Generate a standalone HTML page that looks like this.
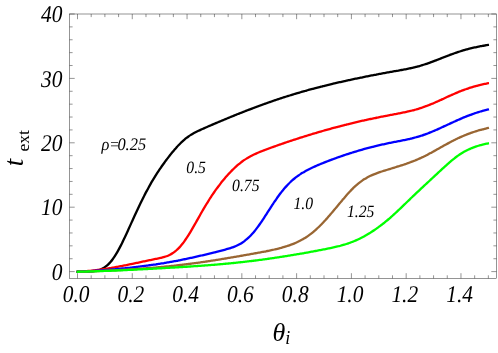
<!DOCTYPE html>
<html><head><meta charset="utf-8"><title>plot</title>
<style>html,body{margin:0;padding:0;background:#fff;}body{width:498px;height:353px;overflow:hidden;font-family:"Liberation Serif",serif;}svg{display:block;will-change:transform}</style>
</head><body>
<svg width="498" height="353" viewBox="0 0 498 353">
<rect width="498" height="353" fill="#fff"/>
<path d="M76.50 271.79 C76.83 271.79 77.83 271.77 78.50 271.76 C79.17 271.75 79.83 271.74 80.50 271.73 C81.17 271.71 81.83 271.70 82.50 271.69 C83.17 271.67 83.83 271.66 84.50 271.64 C85.17 271.63 85.83 271.61 86.50 271.59 C87.17 271.57 87.83 271.55 88.50 271.52 C89.17 271.49 89.83 271.46 90.50 271.42 C91.17 271.38 91.83 271.33 92.50 271.27 C93.17 271.20 93.83 271.13 94.50 271.04 C95.17 270.95 95.83 270.84 96.50 270.70 C97.17 270.56 97.83 270.41 98.50 270.21 C99.17 270.02 99.83 269.80 100.50 269.54 C101.17 269.27 101.83 268.97 102.50 268.62 C103.17 268.27 103.83 267.89 104.50 267.44 C105.17 267.00 105.83 266.50 106.50 265.95 C107.17 265.40 107.83 264.80 108.50 264.13 C109.17 263.47 109.83 262.75 110.50 261.96 C111.17 261.18 111.83 260.34 112.50 259.44 C113.17 258.55 113.83 257.59 114.50 256.58 C115.17 255.57 115.83 254.50 116.50 253.38 C117.17 252.26 117.83 251.09 118.50 249.88 C119.17 248.67 119.83 247.41 120.50 246.11 C121.17 244.82 121.83 243.48 122.50 242.12 C123.17 240.76 123.83 239.37 124.50 237.96 C125.17 236.55 125.83 235.11 126.50 233.66 C127.17 232.21 127.83 230.74 128.50 229.28 C129.17 227.81 129.83 226.33 130.50 224.85 C131.17 223.38 131.83 221.90 132.50 220.43 C133.17 218.95 133.83 217.48 134.50 216.03 C135.17 214.57 135.83 213.12 136.50 211.68 C137.17 210.25 137.83 208.82 138.50 207.41 C139.17 206.01 139.83 204.61 140.50 203.24 C141.17 201.87 141.83 200.51 142.50 199.17 C143.17 197.84 143.83 196.52 144.50 195.22 C145.17 193.93 145.83 192.65 146.50 191.40 C147.17 190.14 147.83 188.91 148.50 187.70 C149.17 186.49 149.83 185.30 150.50 184.13 C151.17 182.96 151.83 181.82 152.50 180.69 C153.17 179.57 153.83 178.47 154.50 177.38 C155.17 176.30 155.83 175.24 156.50 174.19 C157.17 173.15 157.83 172.13 158.50 171.12 C159.17 170.11 159.83 169.12 160.50 168.14 C161.17 167.17 161.83 166.21 162.50 165.27 C163.17 164.32 163.83 163.39 164.50 162.47 C165.17 161.56 165.83 160.65 166.50 159.76 C167.17 158.87 167.83 157.99 168.50 157.12 C169.17 156.26 169.83 155.41 170.50 154.57 C171.17 153.73 171.83 152.90 172.50 152.09 C173.17 151.28 173.83 150.48 174.50 149.71 C175.17 148.93 175.83 148.16 176.50 147.42 C177.17 146.68 177.83 145.95 178.50 145.25 C179.17 144.55 179.83 143.87 180.50 143.21 C181.17 142.55 181.83 141.91 182.50 141.30 C183.17 140.69 183.83 140.10 184.50 139.54 C185.17 138.97 185.83 138.44 186.50 137.92 C187.17 137.41 187.83 136.92 188.50 136.45 C189.17 135.98 189.83 135.54 190.50 135.12 C191.17 134.69 191.83 134.29 192.50 133.91 C193.17 133.52 193.83 133.15 194.50 132.80 C195.17 132.44 195.83 132.10 196.50 131.77 C197.17 131.43 197.83 131.11 198.50 130.80 C199.17 130.48 199.83 130.17 200.50 129.87 C201.17 129.56 201.83 129.26 202.50 128.96 C203.17 128.66 203.83 128.36 204.50 128.07 C205.17 127.77 205.83 127.48 206.50 127.19 C207.17 126.90 207.83 126.61 208.50 126.32 C209.17 126.03 209.83 125.74 210.50 125.45 C211.17 125.16 211.83 124.87 212.50 124.59 C213.17 124.30 213.83 124.02 214.50 123.73 C215.17 123.45 215.83 123.17 216.50 122.88 C217.17 122.60 217.83 122.32 218.50 122.04 C219.17 121.76 219.83 121.48 220.50 121.20 C221.17 120.92 221.83 120.64 222.50 120.36 C223.17 120.08 223.83 119.81 224.50 119.53 C225.17 119.25 225.83 118.98 226.50 118.70 C227.17 118.43 227.83 118.15 228.50 117.88 C229.17 117.61 229.83 117.33 230.50 117.06 C231.17 116.79 231.83 116.52 232.50 116.25 C233.17 115.98 233.83 115.71 234.50 115.44 C235.17 115.17 235.83 114.90 236.50 114.63 C237.17 114.37 237.83 114.10 238.50 113.83 C239.17 113.57 239.83 113.30 240.50 113.04 C241.17 112.77 241.83 112.51 242.50 112.25 C243.17 111.99 243.83 111.73 244.50 111.46 C245.17 111.20 245.83 110.94 246.50 110.69 C247.17 110.43 247.83 110.17 248.50 109.91 C249.17 109.66 249.83 109.40 250.50 109.14 C251.17 108.89 251.83 108.64 252.50 108.38 C253.17 108.13 253.83 107.88 254.50 107.63 C255.17 107.38 255.83 107.13 256.50 106.88 C257.17 106.63 257.83 106.38 258.50 106.13 C259.17 105.89 259.83 105.64 260.50 105.40 C261.17 105.15 261.83 104.91 262.50 104.67 C263.17 104.42 263.83 104.18 264.50 103.94 C265.17 103.70 265.83 103.47 266.50 103.23 C267.17 102.99 267.83 102.76 268.50 102.52 C269.17 102.29 269.83 102.05 270.50 101.82 C271.17 101.59 271.83 101.36 272.50 101.13 C273.17 100.90 273.83 100.67 274.50 100.44 C275.17 100.21 275.83 99.99 276.50 99.76 C277.17 99.54 277.83 99.31 278.50 99.09 C279.17 98.87 279.83 98.65 280.50 98.43 C281.17 98.21 281.83 97.99 282.50 97.77 C283.17 97.56 283.83 97.34 284.50 97.13 C285.17 96.91 285.83 96.70 286.50 96.49 C287.17 96.28 287.83 96.07 288.50 95.86 C289.17 95.65 289.83 95.44 290.50 95.24 C291.17 95.03 291.83 94.82 292.50 94.62 C293.17 94.42 293.83 94.22 294.50 94.01 C295.17 93.81 295.83 93.61 296.50 93.42 C297.17 93.22 297.83 93.02 298.50 92.82 C299.17 92.63 299.83 92.43 300.50 92.24 C301.17 92.05 301.83 91.86 302.50 91.67 C303.17 91.48 303.83 91.29 304.50 91.10 C305.17 90.91 305.83 90.72 306.50 90.54 C307.17 90.35 307.83 90.17 308.50 89.98 C309.17 89.80 309.83 89.62 310.50 89.44 C311.17 89.26 311.83 89.08 312.50 88.90 C313.17 88.72 313.83 88.54 314.50 88.37 C315.17 88.19 315.83 88.02 316.50 87.84 C317.17 87.67 317.83 87.50 318.50 87.32 C319.17 87.15 319.83 86.98 320.50 86.81 C321.17 86.64 321.83 86.47 322.50 86.31 C323.17 86.14 323.83 85.97 324.50 85.81 C325.17 85.64 325.83 85.48 326.50 85.31 C327.17 85.15 327.83 84.99 328.50 84.82 C329.17 84.66 329.83 84.50 330.50 84.34 C331.17 84.18 331.83 84.02 332.50 83.86 C333.17 83.71 333.83 83.55 334.50 83.39 C335.17 83.24 335.83 83.08 336.50 82.93 C337.17 82.77 337.83 82.62 338.50 82.46 C339.17 82.31 339.83 82.16 340.50 82.01 C341.17 81.86 341.83 81.71 342.50 81.56 C343.17 81.41 343.83 81.26 344.50 81.11 C345.17 80.96 345.83 80.81 346.50 80.67 C347.17 80.52 347.83 80.37 348.50 80.23 C349.17 80.08 349.83 79.94 350.50 79.79 C351.17 79.65 351.83 79.51 352.50 79.36 C353.17 79.22 353.83 79.08 354.50 78.94 C355.17 78.80 355.83 78.66 356.50 78.52 C357.17 78.38 357.83 78.24 358.50 78.10 C359.17 77.96 359.83 77.82 360.50 77.69 C361.17 77.55 361.83 77.41 362.50 77.28 C363.17 77.14 363.83 77.01 364.50 76.87 C365.17 76.74 365.83 76.60 366.50 76.47 C367.17 76.34 367.83 76.21 368.50 76.07 C369.17 75.94 369.83 75.81 370.50 75.68 C371.17 75.55 371.83 75.42 372.50 75.29 C373.17 75.16 373.83 75.04 374.50 74.91 C375.17 74.78 375.83 74.65 376.50 74.53 C377.17 74.40 377.83 74.27 378.50 74.15 C379.17 74.02 379.83 73.90 380.50 73.77 C381.17 73.65 381.83 73.53 382.50 73.40 C383.17 73.28 383.83 73.16 384.50 73.04 C385.17 72.91 385.83 72.79 386.50 72.67 C387.17 72.55 387.83 72.43 388.50 72.31 C389.17 72.19 389.83 72.07 390.50 71.95 C391.17 71.83 391.83 71.72 392.50 71.60 C393.17 71.48 393.83 71.36 394.50 71.24 C395.17 71.12 395.83 71.01 396.50 70.89 C397.17 70.77 397.83 70.65 398.50 70.54 C399.17 70.42 399.83 70.30 400.50 70.18 C401.17 70.06 401.83 69.94 402.50 69.82 C403.17 69.70 403.83 69.57 404.50 69.45 C405.17 69.32 405.83 69.20 406.50 69.07 C407.17 68.94 407.83 68.81 408.50 68.67 C409.17 68.53 409.83 68.39 410.50 68.25 C411.17 68.11 411.83 67.96 412.50 67.81 C413.17 67.66 413.83 67.50 414.50 67.34 C415.17 67.18 415.83 67.01 416.50 66.84 C417.17 66.67 417.83 66.49 418.50 66.31 C419.17 66.12 419.83 65.93 420.50 65.74 C421.17 65.55 421.83 65.35 422.50 65.14 C423.17 64.94 423.83 64.73 424.50 64.51 C425.17 64.29 425.83 64.07 426.50 63.85 C427.17 63.62 427.83 63.39 428.50 63.15 C429.17 62.92 429.83 62.68 430.50 62.43 C431.17 62.19 431.83 61.94 432.50 61.69 C433.17 61.44 433.83 61.19 434.50 60.93 C435.17 60.68 435.83 60.42 436.50 60.16 C437.17 59.90 437.83 59.63 438.50 59.37 C439.17 59.11 439.83 58.84 440.50 58.58 C441.17 58.32 441.83 58.05 442.50 57.79 C443.17 57.53 443.83 57.26 444.50 57.00 C445.17 56.74 445.83 56.48 446.50 56.22 C447.17 55.96 447.83 55.71 448.50 55.45 C449.17 55.20 449.83 54.95 450.50 54.70 C451.17 54.45 451.83 54.21 452.50 53.96 C453.17 53.72 453.83 53.48 454.50 53.25 C455.17 53.01 455.83 52.78 456.50 52.56 C457.17 52.33 457.83 52.11 458.50 51.89 C459.17 51.67 459.83 51.45 460.50 51.24 C461.17 51.03 461.83 50.83 462.50 50.63 C463.17 50.42 463.83 50.23 464.50 50.03 C465.17 49.84 465.83 49.65 466.50 49.47 C467.17 49.28 467.83 49.11 468.50 48.93 C469.17 48.75 469.83 48.58 470.50 48.42 C471.17 48.25 471.83 48.09 472.50 47.93 C473.17 47.77 473.83 47.62 474.50 47.47 C475.17 47.32 475.83 47.17 476.50 47.03 C477.17 46.89 477.83 46.76 478.50 46.62 C479.17 46.49 479.83 46.36 480.50 46.24 C481.17 46.11 481.83 45.99 482.50 45.87 C483.17 45.76 483.83 45.64 484.50 45.54 C485.17 45.43 485.83 45.32 486.50 45.22 C487.17 45.12 488.08 44.99 488.50 44.94 C488.92 44.88 488.92 44.88 489.00 44.87" fill="none" stroke="#000000" stroke-width="2.3" stroke-linejoin="round" stroke-linecap="butt"/>
<path d="M76.50 271.82 C76.83 271.80 77.83 271.76 78.50 271.72 C79.17 271.69 79.83 271.65 80.50 271.61 C81.17 271.57 81.83 271.53 82.50 271.48 C83.17 271.43 83.83 271.39 84.50 271.33 C85.17 271.28 85.83 271.23 86.50 271.17 C87.17 271.12 87.83 271.06 88.50 271.00 C89.17 270.93 89.83 270.87 90.50 270.80 C91.17 270.73 91.83 270.66 92.50 270.59 C93.17 270.52 93.83 270.44 94.50 270.37 C95.17 270.29 95.83 270.21 96.50 270.13 C97.17 270.04 97.83 269.96 98.50 269.87 C99.17 269.79 99.83 269.70 100.50 269.60 C101.17 269.51 101.83 269.42 102.50 269.32 C103.17 269.22 103.83 269.12 104.50 269.02 C105.17 268.92 105.83 268.82 106.50 268.71 C107.17 268.61 107.83 268.50 108.50 268.39 C109.17 268.28 109.83 268.17 110.50 268.06 C111.17 267.94 111.83 267.83 112.50 267.71 C113.17 267.60 113.83 267.48 114.50 267.36 C115.17 267.24 115.83 267.12 116.50 266.99 C117.17 266.87 117.83 266.75 118.50 266.62 C119.17 266.49 119.83 266.37 120.50 266.24 C121.17 266.11 121.83 265.98 122.50 265.85 C123.17 265.72 123.83 265.59 124.50 265.45 C125.17 265.32 125.83 265.19 126.50 265.05 C127.17 264.92 127.83 264.78 128.50 264.65 C129.17 264.51 129.83 264.37 130.50 264.23 C131.17 264.10 131.83 263.96 132.50 263.82 C133.17 263.68 133.83 263.54 134.50 263.40 C135.17 263.26 135.83 263.12 136.50 262.98 C137.17 262.84 137.83 262.70 138.50 262.56 C139.17 262.42 139.83 262.27 140.50 262.13 C141.17 261.99 141.83 261.85 142.50 261.71 C143.17 261.57 143.83 261.42 144.50 261.28 C145.17 261.14 145.83 261.00 146.50 260.86 C147.17 260.72 147.83 260.58 148.50 260.44 C149.17 260.30 149.83 260.16 150.50 260.02 C151.17 259.88 151.83 259.74 152.50 259.60 C153.17 259.47 153.83 259.33 154.50 259.20 C155.17 259.06 155.83 258.93 156.50 258.79 C157.17 258.65 157.83 258.52 158.50 258.38 C159.17 258.24 159.83 258.10 160.50 257.95 C161.17 257.79 161.83 257.64 162.50 257.47 C163.17 257.30 163.83 257.12 164.50 256.92 C165.17 256.71 165.83 256.50 166.50 256.26 C167.17 256.02 167.83 255.75 168.50 255.46 C169.17 255.17 169.83 254.85 170.50 254.49 C171.17 254.13 171.83 253.74 172.50 253.31 C173.17 252.88 173.83 252.42 174.50 251.91 C175.17 251.40 175.83 250.85 176.50 250.26 C177.17 249.67 177.83 249.03 178.50 248.35 C179.17 247.67 179.83 246.95 180.50 246.18 C181.17 245.41 181.83 244.60 182.50 243.75 C183.17 242.90 183.83 242.01 184.50 241.08 C185.17 240.15 185.83 239.18 186.50 238.18 C187.17 237.18 187.83 236.14 188.50 235.08 C189.17 234.02 189.83 232.93 190.50 231.81 C191.17 230.70 191.83 229.57 192.50 228.42 C193.17 227.27 193.83 226.10 194.50 224.93 C195.17 223.76 195.83 222.57 196.50 221.39 C197.17 220.20 197.83 219.01 198.50 217.83 C199.17 216.64 199.83 215.46 200.50 214.28 C201.17 213.11 201.83 211.94 202.50 210.79 C203.17 209.64 203.83 208.49 204.50 207.37 C205.17 206.24 205.83 205.13 206.50 204.03 C207.17 202.94 207.83 201.86 208.50 200.80 C209.17 199.74 209.83 198.70 210.50 197.67 C211.17 196.65 211.83 195.64 212.50 194.65 C213.17 193.67 213.83 192.70 214.50 191.74 C215.17 190.79 215.83 189.85 216.50 188.93 C217.17 188.01 217.83 187.11 218.50 186.22 C219.17 185.33 219.83 184.46 220.50 183.61 C221.17 182.75 221.83 181.91 222.50 181.09 C223.17 180.26 223.83 179.45 224.50 178.66 C225.17 177.86 225.83 177.08 226.50 176.32 C227.17 175.56 227.83 174.81 228.50 174.08 C229.17 173.36 229.83 172.64 230.50 171.95 C231.17 171.25 231.83 170.57 232.50 169.91 C233.17 169.24 233.83 168.60 234.50 167.97 C235.17 167.34 235.83 166.74 236.50 166.14 C237.17 165.55 237.83 164.98 238.50 164.42 C239.17 163.87 239.83 163.33 240.50 162.81 C241.17 162.29 241.83 161.79 242.50 161.30 C243.17 160.82 243.83 160.35 244.50 159.90 C245.17 159.45 245.83 159.02 246.50 158.60 C247.17 158.18 247.83 157.78 248.50 157.39 C249.17 157.01 249.83 156.63 250.50 156.28 C251.17 155.92 251.83 155.57 252.50 155.24 C253.17 154.90 253.83 154.58 254.50 154.27 C255.17 153.96 255.83 153.66 256.50 153.37 C257.17 153.07 257.83 152.79 258.50 152.51 C259.17 152.23 259.83 151.96 260.50 151.69 C261.17 151.42 261.83 151.16 262.50 150.90 C263.17 150.64 263.83 150.38 264.50 150.13 C265.17 149.88 265.83 149.62 266.50 149.37 C267.17 149.12 267.83 148.88 268.50 148.63 C269.17 148.38 269.83 148.14 270.50 147.89 C271.17 147.65 271.83 147.41 272.50 147.17 C273.17 146.93 273.83 146.69 274.50 146.45 C275.17 146.21 275.83 145.97 276.50 145.74 C277.17 145.50 277.83 145.27 278.50 145.03 C279.17 144.80 279.83 144.56 280.50 144.33 C281.17 144.10 281.83 143.87 282.50 143.64 C283.17 143.41 283.83 143.18 284.50 142.95 C285.17 142.73 285.83 142.50 286.50 142.28 C287.17 142.05 287.83 141.83 288.50 141.60 C289.17 141.38 289.83 141.16 290.50 140.94 C291.17 140.71 291.83 140.49 292.50 140.27 C293.17 140.05 293.83 139.84 294.50 139.62 C295.17 139.40 295.83 139.19 296.50 138.97 C297.17 138.75 297.83 138.54 298.50 138.33 C299.17 138.11 299.83 137.90 300.50 137.69 C301.17 137.48 301.83 137.26 302.50 137.05 C303.17 136.84 303.83 136.64 304.50 136.43 C305.17 136.22 305.83 136.01 306.50 135.80 C307.17 135.60 307.83 135.39 308.50 135.19 C309.17 134.98 309.83 134.78 310.50 134.58 C311.17 134.37 311.83 134.17 312.50 133.97 C313.17 133.77 313.83 133.57 314.50 133.37 C315.17 133.17 315.83 132.97 316.50 132.78 C317.17 132.58 317.83 132.38 318.50 132.19 C319.17 131.99 319.83 131.80 320.50 131.60 C321.17 131.41 321.83 131.21 322.50 131.02 C323.17 130.83 323.83 130.64 324.50 130.45 C325.17 130.26 325.83 130.07 326.50 129.88 C327.17 129.69 327.83 129.51 328.50 129.32 C329.17 129.14 329.83 128.95 330.50 128.77 C331.17 128.58 331.83 128.40 332.50 128.22 C333.17 128.03 333.83 127.85 334.50 127.67 C335.17 127.49 335.83 127.31 336.50 127.14 C337.17 126.96 337.83 126.78 338.50 126.61 C339.17 126.43 339.83 126.25 340.50 126.08 C341.17 125.91 341.83 125.73 342.50 125.56 C343.17 125.39 343.83 125.22 344.50 125.05 C345.17 124.88 345.83 124.71 346.50 124.55 C347.17 124.38 347.83 124.21 348.50 124.05 C349.17 123.88 349.83 123.72 350.50 123.56 C351.17 123.39 351.83 123.23 352.50 123.07 C353.17 122.91 353.83 122.75 354.50 122.59 C355.17 122.43 355.83 122.28 356.50 122.12 C357.17 121.96 357.83 121.81 358.50 121.66 C359.17 121.50 359.83 121.35 360.50 121.20 C361.17 121.04 361.83 120.89 362.50 120.74 C363.17 120.59 363.83 120.45 364.50 120.30 C365.17 120.15 365.83 120.00 366.50 119.86 C367.17 119.71 367.83 119.57 368.50 119.42 C369.17 119.28 369.83 119.14 370.50 119.00 C371.17 118.85 371.83 118.71 372.50 118.57 C373.17 118.43 373.83 118.30 374.50 118.16 C375.17 118.02 375.83 117.88 376.50 117.75 C377.17 117.61 377.83 117.47 378.50 117.34 C379.17 117.20 379.83 117.07 380.50 116.94 C381.17 116.80 381.83 116.67 382.50 116.54 C383.17 116.41 383.83 116.28 384.50 116.15 C385.17 116.01 385.83 115.89 386.50 115.76 C387.17 115.63 387.83 115.50 388.50 115.37 C389.17 115.24 389.83 115.11 390.50 114.99 C391.17 114.86 391.83 114.73 392.50 114.61 C393.17 114.48 393.83 114.35 394.50 114.23 C395.17 114.10 395.83 113.97 396.50 113.85 C397.17 113.72 397.83 113.59 398.50 113.47 C399.17 113.34 399.83 113.21 400.50 113.08 C401.17 112.95 401.83 112.82 402.50 112.69 C403.17 112.55 403.83 112.42 404.50 112.28 C405.17 112.15 405.83 112.01 406.50 111.86 C407.17 111.72 407.83 111.57 408.50 111.42 C409.17 111.27 409.83 111.12 410.50 110.96 C411.17 110.80 411.83 110.64 412.50 110.47 C413.17 110.30 413.83 110.12 414.50 109.94 C415.17 109.76 415.83 109.57 416.50 109.38 C417.17 109.19 417.83 108.99 418.50 108.78 C419.17 108.58 419.83 108.37 420.50 108.15 C421.17 107.93 421.83 107.71 422.50 107.48 C423.17 107.25 423.83 107.01 424.50 106.77 C425.17 106.53 425.83 106.28 426.50 106.03 C427.17 105.77 427.83 105.51 428.50 105.25 C429.17 104.98 429.83 104.71 430.50 104.44 C431.17 104.16 431.83 103.88 432.50 103.60 C433.17 103.32 433.83 103.03 434.50 102.74 C435.17 102.45 435.83 102.15 436.50 101.85 C437.17 101.56 437.83 101.26 438.50 100.95 C439.17 100.65 439.83 100.35 440.50 100.04 C441.17 99.74 441.83 99.43 442.50 99.12 C443.17 98.82 443.83 98.51 444.50 98.20 C445.17 97.89 445.83 97.59 446.50 97.28 C447.17 96.97 447.83 96.67 448.50 96.36 C449.17 96.06 449.83 95.76 450.50 95.46 C451.17 95.16 451.83 94.86 452.50 94.57 C453.17 94.28 453.83 93.98 454.50 93.70 C455.17 93.41 455.83 93.12 456.50 92.84 C457.17 92.56 457.83 92.29 458.50 92.02 C459.17 91.74 459.83 91.48 460.50 91.21 C461.17 90.95 461.83 90.69 462.50 90.44 C463.17 90.19 463.83 89.94 464.50 89.69 C465.17 89.45 465.83 89.21 466.50 88.98 C467.17 88.75 467.83 88.52 468.50 88.30 C469.17 88.07 469.83 87.86 470.50 87.65 C471.17 87.43 471.83 87.23 472.50 87.03 C473.17 86.83 473.83 86.63 474.50 86.44 C475.17 86.25 475.83 86.06 476.50 85.89 C477.17 85.71 477.83 85.53 478.50 85.36 C479.17 85.19 479.83 85.03 480.50 84.87 C481.17 84.71 481.83 84.56 482.50 84.41 C483.17 84.26 483.83 84.12 484.50 83.98 C485.17 83.84 485.83 83.71 486.50 83.58 C487.17 83.45 488.08 83.29 488.50 83.21 C488.92 83.14 488.92 83.14 489.00 83.13" fill="none" stroke="#ff0000" stroke-width="2.3" stroke-linejoin="round" stroke-linecap="butt"/>
<path d="M76.50 271.79 C76.83 271.78 77.83 271.74 78.50 271.71 C79.17 271.69 79.83 271.66 80.50 271.63 C81.17 271.60 81.83 271.57 82.50 271.54 C83.17 271.51 83.83 271.48 84.50 271.45 C85.17 271.41 85.83 271.38 86.50 271.35 C87.17 271.31 87.83 271.27 88.50 271.24 C89.17 271.20 89.83 271.16 90.50 271.12 C91.17 271.08 91.83 271.04 92.50 271.00 C93.17 270.96 93.83 270.92 94.50 270.88 C95.17 270.83 95.83 270.79 96.50 270.75 C97.17 270.70 97.83 270.65 98.50 270.61 C99.17 270.56 99.83 270.51 100.50 270.46 C101.17 270.42 101.83 270.37 102.50 270.31 C103.17 270.26 103.83 270.21 104.50 270.16 C105.17 270.11 105.83 270.05 106.50 270.00 C107.17 269.94 107.83 269.89 108.50 269.83 C109.17 269.78 109.83 269.72 110.50 269.66 C111.17 269.60 111.83 269.54 112.50 269.48 C113.17 269.42 113.83 269.36 114.50 269.30 C115.17 269.24 115.83 269.18 116.50 269.11 C117.17 269.05 117.83 268.98 118.50 268.92 C119.17 268.85 119.83 268.79 120.50 268.72 C121.17 268.65 121.83 268.58 122.50 268.52 C123.17 268.45 123.83 268.38 124.50 268.31 C125.17 268.24 125.83 268.16 126.50 268.09 C127.17 268.02 127.83 267.95 128.50 267.87 C129.17 267.80 129.83 267.73 130.50 267.65 C131.17 267.57 131.83 267.50 132.50 267.42 C133.17 267.34 133.83 267.26 134.50 267.19 C135.17 267.11 135.83 267.03 136.50 266.95 C137.17 266.87 137.83 266.78 138.50 266.70 C139.17 266.62 139.83 266.54 140.50 266.45 C141.17 266.37 141.83 266.28 142.50 266.19 C143.17 266.11 143.83 266.02 144.50 265.93 C145.17 265.85 145.83 265.76 146.50 265.67 C147.17 265.58 147.83 265.48 148.50 265.39 C149.17 265.30 149.83 265.21 150.50 265.11 C151.17 265.02 151.83 264.92 152.50 264.83 C153.17 264.73 153.83 264.63 154.50 264.53 C155.17 264.44 155.83 264.34 156.50 264.24 C157.17 264.13 157.83 264.03 158.50 263.93 C159.17 263.83 159.83 263.72 160.50 263.62 C161.17 263.51 161.83 263.40 162.50 263.29 C163.17 263.19 163.83 263.08 164.50 262.97 C165.17 262.86 165.83 262.74 166.50 262.63 C167.17 262.52 167.83 262.40 168.50 262.29 C169.17 262.17 169.83 262.05 170.50 261.93 C171.17 261.82 171.83 261.70 172.50 261.58 C173.17 261.45 173.83 261.33 174.50 261.21 C175.17 261.08 175.83 260.96 176.50 260.83 C177.17 260.71 177.83 260.58 178.50 260.45 C179.17 260.32 179.83 260.19 180.50 260.06 C181.17 259.93 181.83 259.79 182.50 259.66 C183.17 259.52 183.83 259.39 184.50 259.25 C185.17 259.11 185.83 258.98 186.50 258.84 C187.17 258.70 187.83 258.56 188.50 258.41 C189.17 258.27 189.83 258.13 190.50 257.99 C191.17 257.84 191.83 257.70 192.50 257.55 C193.17 257.40 193.83 257.26 194.50 257.11 C195.17 256.96 195.83 256.81 196.50 256.66 C197.17 256.51 197.83 256.35 198.50 256.20 C199.17 256.05 199.83 255.89 200.50 255.74 C201.17 255.58 201.83 255.43 202.50 255.27 C203.17 255.11 203.83 254.96 204.50 254.80 C205.17 254.64 205.83 254.48 206.50 254.32 C207.17 254.16 207.83 254.00 208.50 253.83 C209.17 253.67 209.83 253.51 210.50 253.34 C211.17 253.18 211.83 253.01 212.50 252.85 C213.17 252.68 213.83 252.52 214.50 252.35 C215.17 252.18 215.83 252.01 216.50 251.85 C217.17 251.68 217.83 251.51 218.50 251.34 C219.17 251.17 219.83 251.00 220.50 250.82 C221.17 250.65 221.83 250.48 222.50 250.31 C223.17 250.13 223.83 249.96 224.50 249.78 C225.17 249.60 225.83 249.42 226.50 249.23 C227.17 249.05 227.83 248.86 228.50 248.66 C229.17 248.47 229.83 248.27 230.50 248.05 C231.17 247.84 231.83 247.62 232.50 247.38 C233.17 247.15 233.83 246.90 234.50 246.64 C235.17 246.37 235.83 246.09 236.50 245.79 C237.17 245.49 237.83 245.18 238.50 244.84 C239.17 244.49 239.83 244.13 240.50 243.74 C241.17 243.35 241.83 242.94 242.50 242.50 C243.17 242.05 243.83 241.58 244.50 241.08 C245.17 240.58 245.83 240.05 246.50 239.49 C247.17 238.93 247.83 238.33 248.50 237.71 C249.17 237.08 249.83 236.42 250.50 235.73 C251.17 235.04 251.83 234.31 252.50 233.56 C253.17 232.80 253.83 232.02 254.50 231.20 C255.17 230.38 255.83 229.53 256.50 228.66 C257.17 227.79 257.83 226.88 258.50 225.96 C259.17 225.04 259.83 224.09 260.50 223.12 C261.17 222.15 261.83 221.16 262.50 220.16 C263.17 219.16 263.83 218.14 264.50 217.12 C265.17 216.09 265.83 215.06 266.50 214.02 C267.17 212.98 267.83 211.94 268.50 210.90 C269.17 209.86 269.83 208.82 270.50 207.79 C271.17 206.76 271.83 205.73 272.50 204.72 C273.17 203.71 273.83 202.70 274.50 201.71 C275.17 200.73 275.83 199.75 276.50 198.80 C277.17 197.84 277.83 196.91 278.50 195.99 C279.17 195.08 279.83 194.18 280.50 193.31 C281.17 192.44 281.83 191.59 282.50 190.76 C283.17 189.94 283.83 189.13 284.50 188.36 C285.17 187.58 285.83 186.83 286.50 186.10 C287.17 185.37 287.83 184.67 288.50 183.99 C289.17 183.31 289.83 182.65 290.50 182.02 C291.17 181.39 291.83 180.78 292.50 180.19 C293.17 179.60 293.83 179.04 294.50 178.50 C295.17 177.95 295.83 177.43 296.50 176.92 C297.17 176.42 297.83 175.93 298.50 175.46 C299.17 174.99 299.83 174.54 300.50 174.11 C301.17 173.67 301.83 173.25 302.50 172.84 C303.17 172.44 303.83 172.04 304.50 171.66 C305.17 171.28 305.83 170.91 306.50 170.55 C307.17 170.19 307.83 169.84 308.50 169.50 C309.17 169.16 309.83 168.83 310.50 168.51 C311.17 168.18 311.83 167.86 312.50 167.55 C313.17 167.24 313.83 166.94 314.50 166.64 C315.17 166.34 315.83 166.05 316.50 165.76 C317.17 165.47 317.83 165.18 318.50 164.90 C319.17 164.62 319.83 164.34 320.50 164.06 C321.17 163.79 321.83 163.52 322.50 163.25 C323.17 162.98 323.83 162.71 324.50 162.44 C325.17 162.18 325.83 161.92 326.50 161.65 C327.17 161.39 327.83 161.14 328.50 160.88 C329.17 160.62 329.83 160.37 330.50 160.12 C331.17 159.86 331.83 159.61 332.50 159.36 C333.17 159.12 333.83 158.87 334.50 158.63 C335.17 158.38 335.83 158.14 336.50 157.90 C337.17 157.66 337.83 157.42 338.50 157.18 C339.17 156.95 339.83 156.71 340.50 156.48 C341.17 156.25 341.83 156.02 342.50 155.79 C343.17 155.56 343.83 155.34 344.50 155.11 C345.17 154.89 345.83 154.67 346.50 154.45 C347.17 154.23 347.83 154.01 348.50 153.79 C349.17 153.57 349.83 153.36 350.50 153.15 C351.17 152.94 351.83 152.72 352.50 152.52 C353.17 152.31 353.83 152.10 354.50 151.90 C355.17 151.69 355.83 151.49 356.50 151.29 C357.17 151.09 357.83 150.89 358.50 150.69 C359.17 150.50 359.83 150.30 360.50 150.11 C361.17 149.92 361.83 149.73 362.50 149.54 C363.17 149.35 363.83 149.16 364.50 148.98 C365.17 148.79 365.83 148.61 366.50 148.43 C367.17 148.25 367.83 148.07 368.50 147.89 C369.17 147.72 369.83 147.54 370.50 147.37 C371.17 147.20 371.83 147.03 372.50 146.86 C373.17 146.69 373.83 146.52 374.50 146.36 C375.17 146.19 375.83 146.03 376.50 145.87 C377.17 145.71 377.83 145.55 378.50 145.39 C379.17 145.24 379.83 145.08 380.50 144.93 C381.17 144.78 381.83 144.63 382.50 144.48 C383.17 144.33 383.83 144.18 384.50 144.04 C385.17 143.89 385.83 143.75 386.50 143.61 C387.17 143.47 387.83 143.33 388.50 143.19 C389.17 143.05 389.83 142.92 390.50 142.78 C391.17 142.65 391.83 142.52 392.50 142.38 C393.17 142.25 393.83 142.12 394.50 141.99 C395.17 141.86 395.83 141.73 396.50 141.61 C397.17 141.48 397.83 141.35 398.50 141.22 C399.17 141.09 399.83 140.96 400.50 140.83 C401.17 140.70 401.83 140.57 402.50 140.44 C403.17 140.31 403.83 140.17 404.50 140.04 C405.17 139.90 405.83 139.76 406.50 139.62 C407.17 139.47 407.83 139.33 408.50 139.18 C409.17 139.03 409.83 138.87 410.50 138.71 C411.17 138.56 411.83 138.39 412.50 138.22 C413.17 138.06 413.83 137.88 414.50 137.71 C415.17 137.53 415.83 137.34 416.50 137.15 C417.17 136.96 417.83 136.77 418.50 136.57 C419.17 136.37 419.83 136.16 420.50 135.95 C421.17 135.73 421.83 135.52 422.50 135.29 C423.17 135.07 423.83 134.84 424.50 134.60 C425.17 134.36 425.83 134.12 426.50 133.87 C427.17 133.63 427.83 133.37 428.50 133.11 C429.17 132.86 429.83 132.59 430.50 132.32 C431.17 132.05 431.83 131.78 432.50 131.50 C433.17 131.23 433.83 130.94 434.50 130.66 C435.17 130.37 435.83 130.08 436.50 129.79 C437.17 129.50 437.83 129.20 438.50 128.90 C439.17 128.60 439.83 128.30 440.50 128.00 C441.17 127.69 441.83 127.39 442.50 127.08 C443.17 126.77 443.83 126.46 444.50 126.16 C445.17 125.85 445.83 125.54 446.50 125.23 C447.17 124.92 447.83 124.61 448.50 124.30 C449.17 123.99 449.83 123.67 450.50 123.37 C451.17 123.06 451.83 122.75 452.50 122.44 C453.17 122.14 453.83 121.83 454.50 121.53 C455.17 121.23 455.83 120.92 456.50 120.63 C457.17 120.33 457.83 120.03 458.50 119.74 C459.17 119.44 459.83 119.15 460.50 118.87 C461.17 118.58 461.83 118.30 462.50 118.02 C463.17 117.73 463.83 117.46 464.50 117.18 C465.17 116.91 465.83 116.64 466.50 116.38 C467.17 116.11 467.83 115.85 468.50 115.60 C469.17 115.34 469.83 115.09 470.50 114.84 C471.17 114.60 471.83 114.35 472.50 114.12 C473.17 113.88 473.83 113.65 474.50 113.42 C475.17 113.19 475.83 112.97 476.50 112.75 C477.17 112.53 477.83 112.32 478.50 112.11 C479.17 111.90 479.83 111.70 480.50 111.50 C481.17 111.31 481.83 111.11 482.50 110.93 C483.17 110.74 483.83 110.56 484.50 110.38 C485.17 110.20 485.83 110.03 486.50 109.87 C487.17 109.70 488.08 109.48 488.50 109.38 C488.92 109.28 488.92 109.28 489.00 109.26" fill="none" stroke="#0000ff" stroke-width="2.3" stroke-linejoin="round" stroke-linecap="butt"/>
<path d="M76.50 271.79 C76.83 271.78 77.83 271.75 78.50 271.73 C79.17 271.71 79.83 271.69 80.50 271.67 C81.17 271.65 81.83 271.63 82.50 271.61 C83.17 271.59 83.83 271.57 84.50 271.55 C85.17 271.53 85.83 271.51 86.50 271.48 C87.17 271.46 87.83 271.44 88.50 271.42 C89.17 271.39 89.83 271.37 90.50 271.34 C91.17 271.32 91.83 271.30 92.50 271.27 C93.17 271.25 93.83 271.22 94.50 271.20 C95.17 271.17 95.83 271.14 96.50 271.12 C97.17 271.09 97.83 271.06 98.50 271.04 C99.17 271.01 99.83 270.98 100.50 270.96 C101.17 270.93 101.83 270.90 102.50 270.87 C103.17 270.84 103.83 270.81 104.50 270.78 C105.17 270.75 105.83 270.72 106.50 270.69 C107.17 270.66 107.83 270.63 108.50 270.60 C109.17 270.57 109.83 270.54 110.50 270.50 C111.17 270.47 111.83 270.44 112.50 270.41 C113.17 270.37 113.83 270.34 114.50 270.31 C115.17 270.27 115.83 270.24 116.50 270.20 C117.17 270.17 117.83 270.13 118.50 270.10 C119.17 270.06 119.83 270.02 120.50 269.99 C121.17 269.95 121.83 269.91 122.50 269.87 C123.17 269.84 123.83 269.80 124.50 269.76 C125.17 269.72 125.83 269.68 126.50 269.64 C127.17 269.60 127.83 269.56 128.50 269.52 C129.17 269.48 129.83 269.44 130.50 269.39 C131.17 269.35 131.83 269.31 132.50 269.26 C133.17 269.22 133.83 269.18 134.50 269.13 C135.17 269.09 135.83 269.04 136.50 269.00 C137.17 268.95 137.83 268.91 138.50 268.86 C139.17 268.81 139.83 268.77 140.50 268.72 C141.17 268.67 141.83 268.62 142.50 268.57 C143.17 268.52 143.83 268.47 144.50 268.42 C145.17 268.37 145.83 268.32 146.50 268.27 C147.17 268.22 147.83 268.16 148.50 268.11 C149.17 268.06 149.83 268.00 150.50 267.95 C151.17 267.90 151.83 267.84 152.50 267.78 C153.17 267.73 153.83 267.67 154.50 267.62 C155.17 267.56 155.83 267.50 156.50 267.44 C157.17 267.38 157.83 267.32 158.50 267.26 C159.17 267.20 159.83 267.14 160.50 267.08 C161.17 267.02 161.83 266.96 162.50 266.89 C163.17 266.83 163.83 266.77 164.50 266.70 C165.17 266.64 165.83 266.57 166.50 266.50 C167.17 266.44 167.83 266.37 168.50 266.30 C169.17 266.23 169.83 266.17 170.50 266.10 C171.17 266.03 171.83 265.96 172.50 265.88 C173.17 265.81 173.83 265.74 174.50 265.67 C175.17 265.59 175.83 265.52 176.50 265.45 C177.17 265.37 177.83 265.29 178.50 265.22 C179.17 265.14 179.83 265.06 180.50 264.99 C181.17 264.91 181.83 264.83 182.50 264.75 C183.17 264.67 183.83 264.59 184.50 264.51 C185.17 264.42 185.83 264.34 186.50 264.26 C187.17 264.17 187.83 264.09 188.50 264.00 C189.17 263.92 189.83 263.83 190.50 263.75 C191.17 263.66 191.83 263.57 192.50 263.48 C193.17 263.39 193.83 263.30 194.50 263.21 C195.17 263.12 195.83 263.03 196.50 262.94 C197.17 262.85 197.83 262.75 198.50 262.66 C199.17 262.57 199.83 262.47 200.50 262.38 C201.17 262.28 201.83 262.19 202.50 262.09 C203.17 261.99 203.83 261.90 204.50 261.80 C205.17 261.70 205.83 261.60 206.50 261.50 C207.17 261.40 207.83 261.30 208.50 261.20 C209.17 261.10 209.83 261.00 210.50 260.90 C211.17 260.79 211.83 260.69 212.50 260.59 C213.17 260.48 213.83 260.38 214.50 260.27 C215.17 260.17 215.83 260.06 216.50 259.96 C217.17 259.85 217.83 259.75 218.50 259.64 C219.17 259.53 219.83 259.42 220.50 259.32 C221.17 259.21 221.83 259.10 222.50 258.99 C223.17 258.88 223.83 258.77 224.50 258.66 C225.17 258.55 225.83 258.44 226.50 258.33 C227.17 258.22 227.83 258.11 228.50 257.99 C229.17 257.88 229.83 257.77 230.50 257.66 C231.17 257.54 231.83 257.43 232.50 257.32 C233.17 257.20 233.83 257.09 234.50 256.97 C235.17 256.86 235.83 256.74 236.50 256.63 C237.17 256.51 237.83 256.40 238.50 256.28 C239.17 256.16 239.83 256.05 240.50 255.93 C241.17 255.81 241.83 255.70 242.50 255.58 C243.17 255.46 243.83 255.34 244.50 255.22 C245.17 255.11 245.83 254.99 246.50 254.87 C247.17 254.75 247.83 254.63 248.50 254.51 C249.17 254.39 249.83 254.27 250.50 254.15 C251.17 254.03 251.83 253.91 252.50 253.79 C253.17 253.67 253.83 253.55 254.50 253.43 C255.17 253.31 255.83 253.19 256.50 253.07 C257.17 252.94 257.83 252.82 258.50 252.70 C259.17 252.58 259.83 252.46 260.50 252.33 C261.17 252.21 261.83 252.09 262.50 251.96 C263.17 251.84 263.83 251.71 264.50 251.58 C265.17 251.46 265.83 251.33 266.50 251.20 C267.17 251.07 267.83 250.93 268.50 250.80 C269.17 250.66 269.83 250.52 270.50 250.38 C271.17 250.24 271.83 250.10 272.50 249.95 C273.17 249.81 273.83 249.66 274.50 249.50 C275.17 249.35 275.83 249.19 276.50 249.03 C277.17 248.87 277.83 248.71 278.50 248.54 C279.17 248.37 279.83 248.19 280.50 248.01 C281.17 247.83 281.83 247.65 282.50 247.46 C283.17 247.27 283.83 247.08 284.50 246.88 C285.17 246.68 285.83 246.47 286.50 246.26 C287.17 246.04 287.83 245.82 288.50 245.60 C289.17 245.37 289.83 245.14 290.50 244.90 C291.17 244.65 291.83 244.41 292.50 244.15 C293.17 243.89 293.83 243.62 294.50 243.34 C295.17 243.07 295.83 242.78 296.50 242.48 C297.17 242.18 297.83 241.87 298.50 241.55 C299.17 241.23 299.83 240.89 300.50 240.54 C301.17 240.20 301.83 239.83 302.50 239.46 C303.17 239.08 303.83 238.69 304.50 238.28 C305.17 237.87 305.83 237.45 306.50 237.01 C307.17 236.57 307.83 236.12 308.50 235.64 C309.17 235.17 309.83 234.68 310.50 234.17 C311.17 233.66 311.83 233.14 312.50 232.59 C313.17 232.05 313.83 231.49 314.50 230.91 C315.17 230.33 315.83 229.74 316.50 229.13 C317.17 228.52 317.83 227.89 318.50 227.25 C319.17 226.60 319.83 225.94 320.50 225.27 C321.17 224.60 321.83 223.91 322.50 223.21 C323.17 222.51 323.83 221.80 324.50 221.07 C325.17 220.35 325.83 219.61 326.50 218.87 C327.17 218.12 327.83 217.37 328.50 216.61 C329.17 215.84 329.83 215.07 330.50 214.30 C331.17 213.52 331.83 212.73 332.50 211.95 C333.17 211.16 333.83 210.36 334.50 209.57 C335.17 208.77 335.83 207.97 336.50 207.17 C337.17 206.37 337.83 205.57 338.50 204.77 C339.17 203.97 339.83 203.16 340.50 202.36 C341.17 201.57 341.83 200.77 342.50 199.98 C343.17 199.19 343.83 198.40 344.50 197.63 C345.17 196.85 345.83 196.08 346.50 195.32 C347.17 194.56 347.83 193.82 348.50 193.08 C349.17 192.35 349.83 191.63 350.50 190.93 C351.17 190.23 351.83 189.54 352.50 188.87 C353.17 188.20 353.83 187.55 354.50 186.93 C355.17 186.30 355.83 185.69 356.50 185.10 C357.17 184.52 357.83 183.95 358.50 183.41 C359.17 182.86 359.83 182.34 360.50 181.84 C361.17 181.34 361.83 180.86 362.50 180.40 C363.17 179.95 363.83 179.51 364.50 179.09 C365.17 178.67 365.83 178.28 366.50 177.89 C367.17 177.51 367.83 177.15 368.50 176.81 C369.17 176.46 369.83 176.13 370.50 175.81 C371.17 175.50 371.83 175.20 372.50 174.91 C373.17 174.61 373.83 174.34 374.50 174.07 C375.17 173.80 375.83 173.55 376.50 173.30 C377.17 173.05 377.83 172.81 378.50 172.57 C379.17 172.34 379.83 172.11 380.50 171.89 C381.17 171.67 381.83 171.45 382.50 171.24 C383.17 171.03 383.83 170.82 384.50 170.61 C385.17 170.40 385.83 170.20 386.50 169.99 C387.17 169.79 387.83 169.59 388.50 169.38 C389.17 169.18 389.83 168.98 390.50 168.78 C391.17 168.58 391.83 168.38 392.50 168.17 C393.17 167.97 393.83 167.77 394.50 167.57 C395.17 167.36 395.83 167.16 396.50 166.95 C397.17 166.75 397.83 166.54 398.50 166.33 C399.17 166.12 399.83 165.91 400.50 165.70 C401.17 165.49 401.83 165.28 402.50 165.06 C403.17 164.84 403.83 164.62 404.50 164.40 C405.17 164.17 405.83 163.95 406.50 163.72 C407.17 163.49 407.83 163.25 408.50 163.01 C409.17 162.77 409.83 162.53 410.50 162.28 C411.17 162.03 411.83 161.77 412.50 161.51 C413.17 161.25 413.83 160.99 414.50 160.72 C415.17 160.44 415.83 160.17 416.50 159.88 C417.17 159.60 417.83 159.31 418.50 159.01 C419.17 158.71 419.83 158.41 420.50 158.10 C421.17 157.79 421.83 157.48 422.50 157.16 C423.17 156.84 423.83 156.51 424.50 156.18 C425.17 155.85 425.83 155.51 426.50 155.17 C427.17 154.83 427.83 154.48 428.50 154.13 C429.17 153.78 429.83 153.42 430.50 153.06 C431.17 152.71 431.83 152.34 432.50 151.98 C433.17 151.61 433.83 151.25 434.50 150.88 C435.17 150.51 435.83 150.14 436.50 149.76 C437.17 149.39 437.83 149.02 438.50 148.64 C439.17 148.27 439.83 147.90 440.50 147.52 C441.17 147.15 441.83 146.78 442.50 146.40 C443.17 146.03 443.83 145.66 444.50 145.29 C445.17 144.93 445.83 144.56 446.50 144.20 C447.17 143.83 447.83 143.47 448.50 143.12 C449.17 142.76 449.83 142.41 450.50 142.06 C451.17 141.71 451.83 141.36 452.50 141.02 C453.17 140.68 453.83 140.34 454.50 140.01 C455.17 139.68 455.83 139.35 456.50 139.03 C457.17 138.71 457.83 138.39 458.50 138.08 C459.17 137.77 459.83 137.46 460.50 137.16 C461.17 136.86 461.83 136.57 462.50 136.28 C463.17 135.99 463.83 135.71 464.50 135.43 C465.17 135.15 465.83 134.88 466.50 134.62 C467.17 134.35 467.83 134.09 468.50 133.84 C469.17 133.59 469.83 133.34 470.50 133.10 C471.17 132.86 471.83 132.62 472.50 132.39 C473.17 132.16 473.83 131.94 474.50 131.72 C475.17 131.50 475.83 131.29 476.50 131.08 C477.17 130.87 477.83 130.67 478.50 130.47 C479.17 130.28 479.83 130.09 480.50 129.90 C481.17 129.72 481.83 129.54 482.50 129.37 C483.17 129.19 483.83 129.03 484.50 128.86 C485.17 128.70 485.83 128.54 486.50 128.39 C487.17 128.24 488.08 128.05 488.50 127.96 C488.92 127.87 488.92 127.87 489.00 127.85" fill="none" stroke="#996633" stroke-width="2.3" stroke-linejoin="round" stroke-linecap="butt"/>
<path d="M76.50 271.80 C76.83 271.79 77.83 271.76 78.50 271.75 C79.17 271.73 79.83 271.72 80.50 271.70 C81.17 271.68 81.83 271.67 82.50 271.65 C83.17 271.63 83.83 271.61 84.50 271.60 C85.17 271.58 85.83 271.56 86.50 271.54 C87.17 271.52 87.83 271.50 88.50 271.48 C89.17 271.46 89.83 271.45 90.50 271.43 C91.17 271.41 91.83 271.39 92.50 271.36 C93.17 271.34 93.83 271.32 94.50 271.30 C95.17 271.28 95.83 271.26 96.50 271.24 C97.17 271.22 97.83 271.19 98.50 271.17 C99.17 271.15 99.83 271.13 100.50 271.10 C101.17 271.08 101.83 271.06 102.50 271.03 C103.17 271.01 103.83 270.99 104.50 270.96 C105.17 270.94 105.83 270.91 106.50 270.89 C107.17 270.86 107.83 270.84 108.50 270.81 C109.17 270.79 109.83 270.76 110.50 270.73 C111.17 270.71 111.83 270.68 112.50 270.65 C113.17 270.63 113.83 270.60 114.50 270.57 C115.17 270.55 115.83 270.52 116.50 270.49 C117.17 270.46 117.83 270.43 118.50 270.41 C119.17 270.38 119.83 270.35 120.50 270.32 C121.17 270.29 121.83 270.26 122.50 270.23 C123.17 270.20 123.83 270.17 124.50 270.14 C125.17 270.11 125.83 270.08 126.50 270.05 C127.17 270.02 127.83 269.99 128.50 269.95 C129.17 269.92 129.83 269.89 130.50 269.86 C131.17 269.83 131.83 269.80 132.50 269.76 C133.17 269.73 133.83 269.70 134.50 269.66 C135.17 269.63 135.83 269.60 136.50 269.57 C137.17 269.53 137.83 269.50 138.50 269.47 C139.17 269.43 139.83 269.40 140.50 269.36 C141.17 269.33 141.83 269.30 142.50 269.26 C143.17 269.23 143.83 269.19 144.50 269.16 C145.17 269.12 145.83 269.09 146.50 269.05 C147.17 269.02 147.83 268.98 148.50 268.95 C149.17 268.91 149.83 268.87 150.50 268.84 C151.17 268.80 151.83 268.77 152.50 268.73 C153.17 268.69 153.83 268.66 154.50 268.62 C155.17 268.58 155.83 268.55 156.50 268.51 C157.17 268.47 157.83 268.44 158.50 268.40 C159.17 268.36 159.83 268.32 160.50 268.29 C161.17 268.25 161.83 268.21 162.50 268.17 C163.17 268.14 163.83 268.10 164.50 268.06 C165.17 268.02 165.83 267.98 166.50 267.95 C167.17 267.91 167.83 267.87 168.50 267.83 C169.17 267.79 169.83 267.75 170.50 267.71 C171.17 267.67 171.83 267.63 172.50 267.59 C173.17 267.56 173.83 267.52 174.50 267.48 C175.17 267.44 175.83 267.40 176.50 267.36 C177.17 267.32 177.83 267.28 178.50 267.23 C179.17 267.19 179.83 267.15 180.50 267.11 C181.17 267.07 181.83 267.03 182.50 266.99 C183.17 266.95 183.83 266.90 184.50 266.86 C185.17 266.82 185.83 266.78 186.50 266.74 C187.17 266.69 187.83 266.65 188.50 266.61 C189.17 266.56 189.83 266.52 190.50 266.48 C191.17 266.43 191.83 266.39 192.50 266.34 C193.17 266.30 193.83 266.26 194.50 266.21 C195.17 266.17 195.83 266.12 196.50 266.07 C197.17 266.03 197.83 265.98 198.50 265.94 C199.17 265.89 199.83 265.84 200.50 265.79 C201.17 265.75 201.83 265.70 202.50 265.65 C203.17 265.60 203.83 265.55 204.50 265.50 C205.17 265.45 205.83 265.41 206.50 265.35 C207.17 265.30 207.83 265.25 208.50 265.20 C209.17 265.15 209.83 265.10 210.50 265.05 C211.17 265.00 211.83 264.94 212.50 264.89 C213.17 264.84 213.83 264.78 214.50 264.73 C215.17 264.67 215.83 264.62 216.50 264.56 C217.17 264.51 217.83 264.45 218.50 264.39 C219.17 264.34 219.83 264.28 220.50 264.22 C221.17 264.16 221.83 264.10 222.50 264.04 C223.17 263.98 223.83 263.92 224.50 263.86 C225.17 263.80 225.83 263.74 226.50 263.68 C227.17 263.62 227.83 263.55 228.50 263.49 C229.17 263.43 229.83 263.36 230.50 263.30 C231.17 263.23 231.83 263.17 232.50 263.10 C233.17 263.03 233.83 262.97 234.50 262.90 C235.17 262.83 235.83 262.76 236.50 262.69 C237.17 262.62 237.83 262.55 238.50 262.48 C239.17 262.41 239.83 262.34 240.50 262.26 C241.17 262.19 241.83 262.12 242.50 262.04 C243.17 261.97 243.83 261.89 244.50 261.82 C245.17 261.74 245.83 261.67 246.50 261.59 C247.17 261.51 247.83 261.43 248.50 261.35 C249.17 261.27 249.83 261.19 250.50 261.11 C251.17 261.03 251.83 260.95 252.50 260.87 C253.17 260.79 253.83 260.70 254.50 260.62 C255.17 260.54 255.83 260.45 256.50 260.37 C257.17 260.28 257.83 260.19 258.50 260.11 C259.17 260.02 259.83 259.93 260.50 259.84 C261.17 259.76 261.83 259.67 262.50 259.58 C263.17 259.49 263.83 259.39 264.50 259.30 C265.17 259.21 265.83 259.12 266.50 259.03 C267.17 258.93 267.83 258.84 268.50 258.74 C269.17 258.65 269.83 258.55 270.50 258.46 C271.17 258.36 271.83 258.27 272.50 258.17 C273.17 258.07 273.83 257.97 274.50 257.87 C275.17 257.77 275.83 257.67 276.50 257.57 C277.17 257.47 277.83 257.37 278.50 257.27 C279.17 257.17 279.83 257.07 280.50 256.97 C281.17 256.86 281.83 256.76 282.50 256.65 C283.17 256.55 283.83 256.45 284.50 256.34 C285.17 256.23 285.83 256.13 286.50 256.02 C287.17 255.91 287.83 255.81 288.50 255.70 C289.17 255.59 289.83 255.48 290.50 255.37 C291.17 255.26 291.83 255.15 292.50 255.04 C293.17 254.93 293.83 254.82 294.50 254.71 C295.17 254.60 295.83 254.49 296.50 254.37 C297.17 254.26 297.83 254.15 298.50 254.03 C299.17 253.92 299.83 253.80 300.50 253.69 C301.17 253.57 301.83 253.46 302.50 253.34 C303.17 253.23 303.83 253.11 304.50 252.99 C305.17 252.87 305.83 252.75 306.50 252.63 C307.17 252.52 307.83 252.40 308.50 252.28 C309.17 252.16 309.83 252.03 310.50 251.91 C311.17 251.79 311.83 251.67 312.50 251.55 C313.17 251.42 313.83 251.30 314.50 251.17 C315.17 251.05 315.83 250.93 316.50 250.80 C317.17 250.67 317.83 250.55 318.50 250.42 C319.17 250.29 319.83 250.17 320.50 250.04 C321.17 249.91 321.83 249.78 322.50 249.65 C323.17 249.52 323.83 249.39 324.50 249.26 C325.17 249.12 325.83 248.99 326.50 248.86 C327.17 248.72 327.83 248.59 328.50 248.45 C329.17 248.32 329.83 248.18 330.50 248.04 C331.17 247.90 331.83 247.76 332.50 247.62 C333.17 247.47 333.83 247.33 334.50 247.18 C335.17 247.03 335.83 246.88 336.50 246.73 C337.17 246.57 337.83 246.41 338.50 246.25 C339.17 246.08 339.83 245.92 340.50 245.74 C341.17 245.57 341.83 245.39 342.50 245.20 C343.17 245.02 343.83 244.82 344.50 244.62 C345.17 244.42 345.83 244.22 346.50 244.00 C347.17 243.79 347.83 243.57 348.50 243.33 C349.17 243.10 349.83 242.86 350.50 242.62 C351.17 242.37 351.83 242.11 352.50 241.85 C353.17 241.58 353.83 241.31 354.50 241.03 C355.17 240.75 355.83 240.46 356.50 240.16 C357.17 239.86 357.83 239.55 358.50 239.23 C359.17 238.91 359.83 238.59 360.50 238.25 C361.17 237.92 361.83 237.58 362.50 237.23 C363.17 236.88 363.83 236.52 364.50 236.15 C365.17 235.78 365.83 235.40 366.50 235.02 C367.17 234.63 367.83 234.24 368.50 233.84 C369.17 233.43 369.83 233.02 370.50 232.61 C371.17 232.19 371.83 231.76 372.50 231.32 C373.17 230.89 373.83 230.44 374.50 229.99 C375.17 229.54 375.83 229.08 376.50 228.61 C377.17 228.14 377.83 227.66 378.50 227.18 C379.17 226.69 379.83 226.19 380.50 225.69 C381.17 225.19 381.83 224.68 382.50 224.16 C383.17 223.63 383.83 223.11 384.50 222.57 C385.17 222.03 385.83 221.49 386.50 220.93 C387.17 220.38 387.83 219.82 388.50 219.25 C389.17 218.68 389.83 218.10 390.50 217.52 C391.17 216.93 391.83 216.34 392.50 215.74 C393.17 215.14 393.83 214.54 394.50 213.93 C395.17 213.31 395.83 212.70 396.50 212.08 C397.17 211.45 397.83 210.83 398.50 210.20 C399.17 209.57 399.83 208.93 400.50 208.30 C401.17 207.66 401.83 207.02 402.50 206.38 C403.17 205.74 403.83 205.09 404.50 204.45 C405.17 203.81 405.83 203.16 406.50 202.52 C407.17 201.87 407.83 201.23 408.50 200.59 C409.17 199.94 409.83 199.30 410.50 198.66 C411.17 198.02 411.83 197.38 412.50 196.75 C413.17 196.11 413.83 195.47 414.50 194.84 C415.17 194.21 415.83 193.57 416.50 192.94 C417.17 192.32 417.83 191.69 418.50 191.06 C419.17 190.43 419.83 189.81 420.50 189.19 C421.17 188.56 421.83 187.94 422.50 187.32 C423.17 186.70 423.83 186.08 424.50 185.46 C425.17 184.84 425.83 184.22 426.50 183.60 C427.17 182.98 427.83 182.36 428.50 181.74 C429.17 181.13 429.83 180.51 430.50 179.89 C431.17 179.27 431.83 178.64 432.50 178.02 C433.17 177.40 433.83 176.78 434.50 176.16 C435.17 175.53 435.83 174.91 436.50 174.29 C437.17 173.67 437.83 173.04 438.50 172.42 C439.17 171.80 439.83 171.18 440.50 170.56 C441.17 169.94 441.83 169.32 442.50 168.70 C443.17 168.09 443.83 167.47 444.50 166.86 C445.17 166.26 445.83 165.65 446.50 165.06 C447.17 164.46 447.83 163.87 448.50 163.28 C449.17 162.70 449.83 162.13 450.50 161.56 C451.17 161.00 451.83 160.44 452.50 159.90 C453.17 159.35 453.83 158.82 454.50 158.30 C455.17 157.78 455.83 157.28 456.50 156.78 C457.17 156.29 457.83 155.81 458.50 155.35 C459.17 154.89 459.83 154.44 460.50 154.00 C461.17 153.57 461.83 153.15 462.50 152.75 C463.17 152.35 463.83 151.96 464.50 151.59 C465.17 151.22 465.83 150.86 466.50 150.52 C467.17 150.18 467.83 149.85 468.50 149.53 C469.17 149.22 469.83 148.92 470.50 148.63 C471.17 148.35 471.83 148.07 472.50 147.81 C473.17 147.55 473.83 147.30 474.50 147.06 C475.17 146.82 475.83 146.59 476.50 146.37 C477.17 146.15 477.83 145.94 478.50 145.74 C479.17 145.54 479.83 145.35 480.50 145.16 C481.17 144.98 481.83 144.80 482.50 144.63 C483.17 144.46 483.83 144.30 484.50 144.14 C485.17 143.99 485.83 143.84 486.50 143.69 C487.17 143.55 488.08 143.36 488.50 143.28 C488.92 143.19 488.92 143.19 489.00 143.18" fill="none" stroke="#00ff00" stroke-width="2.3" stroke-linejoin="round" stroke-linecap="butt"/>
<rect x="69.5" y="14.0" width="427.0" height="264.4" fill="none" stroke="#2b2b2b" stroke-width="0.50"/>
<path d="M77.50 278.40v-5.20M77.50 14.00v5.20M91.19 278.40v-3.10M91.19 14.00v3.10M104.89 278.40v-3.10M104.89 14.00v3.10M118.59 278.40v-3.10M118.59 14.00v3.10M132.28 278.40v-5.20M132.28 14.00v5.20M145.97 278.40v-3.10M145.97 14.00v3.10M159.67 278.40v-3.10M159.67 14.00v3.10M173.37 278.40v-3.10M173.37 14.00v3.10M187.06 278.40v-5.20M187.06 14.00v5.20M200.75 278.40v-3.10M200.75 14.00v3.10M214.45 278.40v-3.10M214.45 14.00v3.10M228.15 278.40v-3.10M228.15 14.00v3.10M241.84 278.40v-5.20M241.84 14.00v5.20M255.53 278.40v-3.10M255.53 14.00v3.10M269.23 278.40v-3.10M269.23 14.00v3.10M282.92 278.40v-3.10M282.92 14.00v3.10M296.62 278.40v-5.20M296.62 14.00v5.20M310.31 278.40v-3.10M310.31 14.00v3.10M324.01 278.40v-3.10M324.01 14.00v3.10M337.70 278.40v-3.10M337.70 14.00v3.10M351.40 278.40v-5.20M351.40 14.00v5.20M365.09 278.40v-3.10M365.09 14.00v3.10M378.79 278.40v-3.10M378.79 14.00v3.10M392.49 278.40v-3.10M392.49 14.00v3.10M406.18 278.40v-5.20M406.18 14.00v5.20M419.88 278.40v-3.10M419.88 14.00v3.10M433.57 278.40v-3.10M433.57 14.00v3.10M447.26 278.40v-3.10M447.26 14.00v3.10M460.96 278.40v-5.20M460.96 14.00v5.20M474.66 278.40v-3.10M474.66 14.00v3.10M488.35 278.40v-3.10M488.35 14.00v3.10M69.50 271.60h5.20M496.50 271.60h-5.20M69.50 258.72h3.10M496.50 258.72h-3.10M69.50 245.84h3.10M496.50 245.84h-3.10M69.50 232.96h3.10M496.50 232.96h-3.10M69.50 220.08h3.10M496.50 220.08h-3.10M69.50 207.20h5.20M496.50 207.20h-5.20M69.50 194.32h3.10M496.50 194.32h-3.10M69.50 181.44h3.10M496.50 181.44h-3.10M69.50 168.56h3.10M496.50 168.56h-3.10M69.50 155.68h3.10M496.50 155.68h-3.10M69.50 142.80h5.20M496.50 142.80h-5.20M69.50 129.92h3.10M496.50 129.92h-3.10M69.50 117.04h3.10M496.50 117.04h-3.10M69.50 104.16h3.10M496.50 104.16h-3.10M69.50 91.28h3.10M496.50 91.28h-3.10M69.50 78.40h5.20M496.50 78.40h-5.20M69.50 65.52h3.10M496.50 65.52h-3.10M69.50 52.64h3.10M496.50 52.64h-3.10M69.50 39.76h3.10M496.50 39.76h-3.10M69.50 26.88h3.10M496.50 26.88h-3.10M69.50 14.00h5.20M496.50 14.00h-5.20" stroke="#2b2b2b" stroke-width="0.50" fill="none"/>
<g font-family="'Liberation Serif', serif" font-style="italic" fill="#000" text-rendering="geometricPrecision">
<text transform="translate(76.10,302.00) scale(1,1.120)" font-size="21.40px" text-anchor="middle">0.0</text>
<text transform="translate(130.88,302.00) scale(1,1.120)" font-size="21.40px" text-anchor="middle">0.2</text>
<text transform="translate(185.66,302.00) scale(1,1.120)" font-size="21.40px" text-anchor="middle">0.4</text>
<text transform="translate(240.44,302.00) scale(1,1.120)" font-size="21.40px" text-anchor="middle">0.6</text>
<text transform="translate(295.22,302.00) scale(1,1.120)" font-size="21.40px" text-anchor="middle">0.8</text>
<text transform="translate(350.00,302.00) scale(1,1.120)" font-size="21.40px" text-anchor="middle">1.0</text>
<text transform="translate(404.78,302.00) scale(1,1.120)" font-size="21.40px" text-anchor="middle">1.2</text>
<text transform="translate(459.56,302.00) scale(1,1.120)" font-size="21.40px" text-anchor="middle">1.4</text>
<text transform="translate(62.40,279.80) scale(1,1.120)" font-size="21.40px" text-anchor="end">0</text>
<text transform="translate(62.40,215.40) scale(1,1.120)" font-size="21.40px" text-anchor="end">10</text>
<text transform="translate(62.40,151.00) scale(1,1.120)" font-size="21.40px" text-anchor="end">20</text>
<text transform="translate(62.40,86.60) scale(1,1.120)" font-size="21.40px" text-anchor="end">30</text>
<text transform="translate(62.40,22.20) scale(1,1.120)" font-size="21.40px" text-anchor="end">40</text>
<text transform="translate(101.60,150.10) scale(1,1.080)" font-size="16.40px" text-anchor="start">ρ</text>
<text transform="translate(109.30,150.10) scale(1,1.080)" font-size="16.40px" text-anchor="start" textLength="10.2" lengthAdjust="spacingAndGlyphs">=</text>
<text transform="translate(117.40,150.10) scale(1,1.080)" font-size="16.40px" text-anchor="start">0.25</text>
<text transform="translate(186.30,172.90) scale(1,1.100)" font-size="15.70px" text-anchor="start">0.5</text>
<text transform="translate(232.10,191.00) scale(1,1.100)" font-size="15.70px" text-anchor="start">0.75</text>
<text transform="translate(293.50,209.40) scale(1,1.100)" font-size="15.70px" text-anchor="start">1.0</text>
<text transform="translate(346.90,216.50) scale(1,1.100)" font-size="15.70px" text-anchor="start">1.25</text>
</g>
<text x="272.4" y="340.6" font-family="'Liberation Serif', serif" font-style="italic" font-size="26px" fill="#000">θ<tspan font-size="18px" dy="3.8">i</tspan></text>
<g transform="translate(23.3,166.3) rotate(-90)"><text x="0" y="0" font-family="'Liberation Serif', serif" font-size="26.5px" fill="#000"><tspan font-style="italic">t</tspan><tspan font-size="17.5px" dx="7.5" dy="5.6">ext</tspan></text></g>
</svg>
</body></html>
